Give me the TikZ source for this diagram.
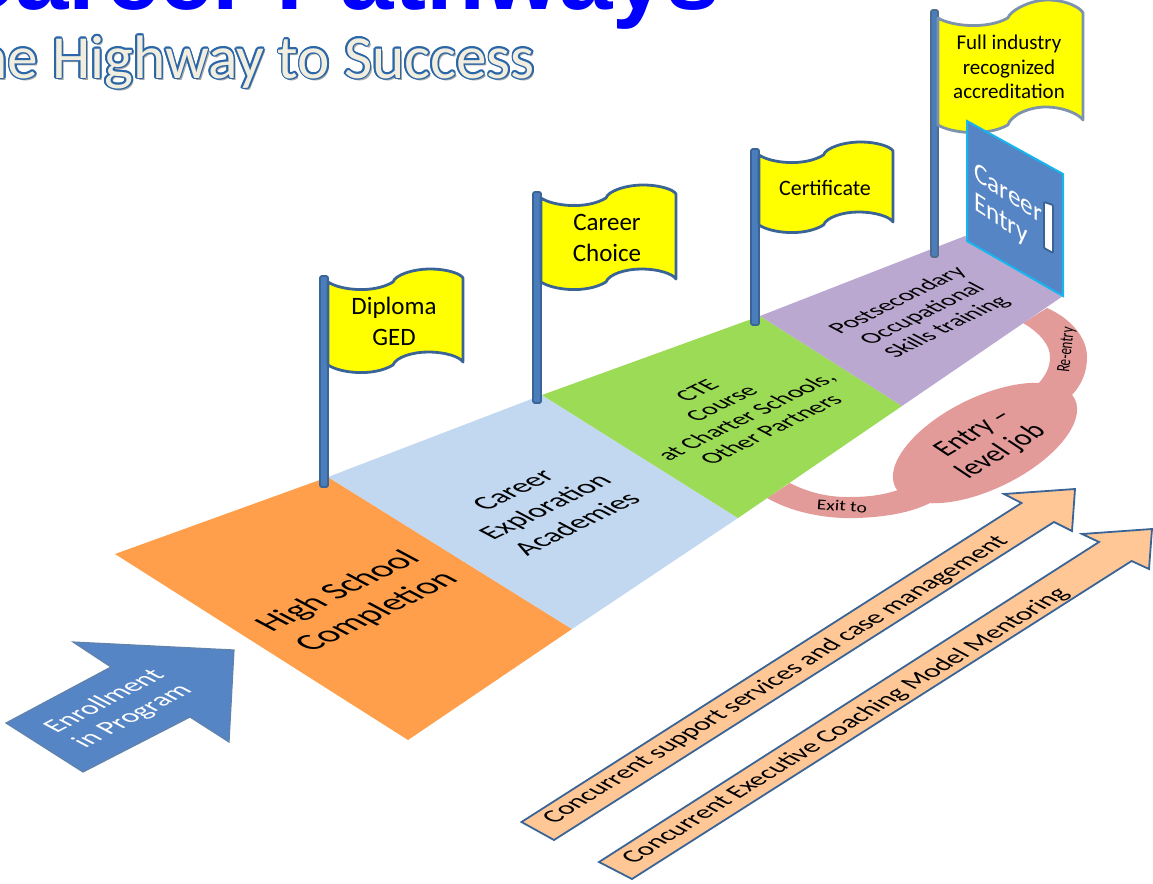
\documentclass[tikz,border=0pt]{standalone}
\usepackage{fontspec}
\setmainfont{Carlito}
\newfontfamily\titlefont{Liberation Sans}
\usetikzlibrary{positioning}

\definecolor{roadorange}{HTML}{FF9F4B}
\definecolor{roadblue}{HTML}{C2D7F0}
\definecolor{roadgreen}{HTML}{9BDB55}
\definecolor{roadpurple}{HTML}{BBA8D0}
\definecolor{bandpink}{HTML}{E29B99}
\definecolor{poleblue}{HTML}{4A7DBB}
\definecolor{edgeblue}{HTML}{3A6496}
\definecolor{boxblue}{HTML}{5585C5}
\definecolor{peach}{HTML}{FFC796}
\definecolor{subfill}{HTML}{F2EEDF}
\definecolor{subedge}{HTML}{2A66A8}
\definecolor{flagyellow}{HTML}{FFFF00}
\definecolor{doorcyan}{HTML}{17B5EE}
\definecolor{titleblue}{HTML}{0000FF}

\begin{document}
\begin{tikzpicture}[
    x=1pt, y=-1pt,
    pole/.style={draw=edgeblue, fill=poleblue, line width=1.8pt, rounded corners=2pt},
    flag/.style={draw=edgeblue, fill=flagyellow, line width=2.8pt, line join=round},
    flagtext/.style={align=center, inner sep=0pt, text=black},
    roadtext/.style={align=center, inner sep=0pt, text=black, cm={.899,.438,-.88,.47,(0,0)}},
    longarrow/.style={draw=edgeblue, fill=peach, line width=1.8pt, line join=miter},
    arrowtext/.style={inner sep=0pt, text=black, font=\fontsize{25.7}{28}\selectfont, cm={.85,.527,-.88,.47,(0,0)}},
    sublayer/.style={anchor=base east, inner sep=0pt, font=\fontsize{61.3}{70}\selectfont}
]
\useasboundingbox (0,0) rectangle (1153,883);
\clip (0,0) rectangle (1153,883);

% Title
\node[anchor=base east, inner sep=0pt, text=titleblue, font=\titlefont\bfseries\fontsize{96}{100}\selectfont] (title) at (720,10) {Career Pathways};

% Subtitle
\node[sublayer, text=black!35] (subshadow) at (537,80) {The Highway to Success};
\foreach \a in {0,30,...,330}
    \node[sublayer, text=subedge, xshift={1.7*cos(\a)}, yshift={1.7*sin(\a)}] (sub\a) at (535,78) {The Highway to Success};
\node[sublayer, text=subfill] (subline) at (535,78) {The Highway to Success};

% Exit and re-entry bands
\fill[bandpink] (767,498) .. controls (795,514) and (830,519) .. (857,518)
    .. controls (885,517) and (910,513) .. (930,503) -- (898,490)
    .. controls (880,496) and (865,497) .. (847,497)
    .. controls (825,497) and (805,491) .. (790,483) -- cycle;
\fill[bandpink] (1023,323) .. controls (1040,333) and (1050,345) .. (1050,357)
    .. controls (1050,367) and (1046,375) .. (1038,384) -- (1070,397)
    .. controls (1082,385) and (1087,372) .. (1087,357)
    .. controls (1087,337) and (1070,318) .. (1047,308) -- cycle;
\fill[bandpink, rotate around={26:(985,443)}] (985,443) ellipse (100 and 46);

% Road sections
\coordinate (r1) at (115,554);
\coordinate (r2) at (328,477);
\coordinate (r3) at (542,395);
\coordinate (r4) at (760,316);
\coordinate (r5) at (965,236);
\coordinate (s1) at (408,740);
\coordinate (s2) at (572,629);
\coordinate (s3) at (738,518);
\coordinate (s4) at (902,406);
\coordinate (s5) at (1063,296);
\fill[roadorange] (r1) -- (r2) -- (s2) -- (s1) -- cycle;
\fill[roadblue] (r2) -- (r3) -- (s3) -- (s2) -- cycle;
\fill[roadgreen] (r3) -- (r4) -- (s4) -- (s3) -- cycle;
\fill[roadpurple] (r4) -- (r5) -- (s5) -- (s4) -- cycle;

% Road labels
\node[roadtext, font=\fontsize{35}{44}\selectfont] (school) at (358,602) {High School\\Completion};
\node[roadtext, font=\fontsize{29}{36}\selectfont] (academy) at (545,507) {Career\\Exploration\\Academies};
\node[roadtext, font=\fontsize{24.5}{28}\selectfont] (cte) at (734,410) {CTE\\Course\\at Charter Schools,\\Other Partners};
\node[roadtext, font=\fontsize{24}{28}\selectfont] (postsec) at (923,314) {Postsecondary\\Occupational\\Skills training};

% Band labels
\node[inner sep=0pt, rotate=-4, xscale=1.3, font=\fontsize{15}{18}\selectfont] (exitlabel) at (842,506) {Exit to};
\node[inner sep=0pt, rotate=84, xscale=.68, font=\fontsize{19}{20}\selectfont] (reentry) at (1067,350) {Re-entry};
\node[inner sep=0pt, align=center, cm={.86,.51,-.9,.6,(0,0)}, font=\fontsize{27}{31}\selectfont] (entryjob) at (988,443) {Entry --\\level job};

% Flags
\foreach \px/\py/\pb/\w/\h/\fs/\name/\lab in {
    328/282/487/135/83/25/diploma/{Diploma\\GED},
    541/198/403/135/84/25/choice/{Career\\Choice},
    759/155/325/134/70/22/cert/Certificate}
{
    \draw[pole] (\px-8,\py-6) rectangle (\px,\pb);
    \begin{scope}[shift={(\px,\py)}, xscale=\w/135]
        \draw[flag] (0,0) .. controls (12,8) and (45,12) .. (65,0)
            .. controls (67,-7) and (85,-13) .. (102,-13)
            .. controls (120,-13) and (133,-8) .. (135,-4) -- (135,\h-3)
            .. controls (132,\h-8) and (118,\h-13) .. (100,\h-13)
            .. controls (85,\h-13) and (68,\h-8) .. (65,\h)
            .. controls (45,\h+12) and (12,\h+8) .. (0,\h) -- cycle;
    \end{scope}
    \node[flagtext, font=\fontsize{\fs}{31}\selectfont] (\name) at (\px+66,\py+\h/2-2) {\lab};
}
% Last flag sits behind the door
\draw[pole, draw=edgeblue!70!gray] (931,10) rectangle (938,257);
\begin{scope}[shift={(938,18)}, xscale=145/135]
    \draw[flag, draw=edgeblue!50!lightgray] (0,0) .. controls (12,8) and (45,12) .. (65,0)
        .. controls (67,-7) and (85,-18) .. (102,-18)
        .. controls (120,-18) and (133,-10) .. (135,-5) -- (135,102)
        .. controls (132,97) and (118,89) .. (100,89)
        .. controls (85,89) and (68,97) .. (65,107)
        .. controls (45,119) and (12,115) .. (0,107) -- cycle;
\end{scope}
\node[flagtext, font=\fontsize{21}{24.5}\selectfont] (accred) at (1009,67) {Full industry\\recognized\\accreditation};

% Door
\draw[fill=boxblue, draw=doorcyan, line width=2pt] (967,121) -- (1063,174) -- (1063,296) -- (967,241) -- cycle;
\draw[fill=white, draw=edgeblue, line width=1.8pt, rounded corners=1pt] (1044,202) -- (1053,205) -- (1053,253) -- (1044,248) -- cycle;
\node[inner sep=0pt, align=left, text=white, cm={.9,-.58,0,1,(0,0)}, font=\fontsize{28}{30}\selectfont] (door) at (1008,210) {Career\\Entry};

% Enrollment arrow
\draw[fill=boxblue, draw=edgeblue!80, line width=1.2pt, line join=miter] (6,723) -- (111,667) -- (73,642) -- (234,650) -- (229,742) -- (190,717) -- (83,772) -- cycle;
\node[inner sep=0pt, align=center, text=white, cm={.885,.465,-.88,.47,(0,0)}, font=\fontsize{27.5}{32}\selectfont] (enroll) at (119,709) {Enrollment\\in Program};

% Long arrows
\draw[longarrow] (521.5,822) -- (554,840) -- (1054,522) -- (1072,531) -- (1075,489) -- (1004,494) -- (1021.5,503) -- cycle;
\node[arrowtext] (support) at (776,680) {Concurrent support services and case management};
\draw[longarrow] (599,862) -- (632,879) -- (1131.6,561) -- (1149,569) -- (1152,529) -- (1082,534) -- (1099,542) -- cycle;
\node[arrowtext] (coach) at (846,726) {Concurrent Executive Coaching Model Mentoring};

\end{tikzpicture}
\end{document}
